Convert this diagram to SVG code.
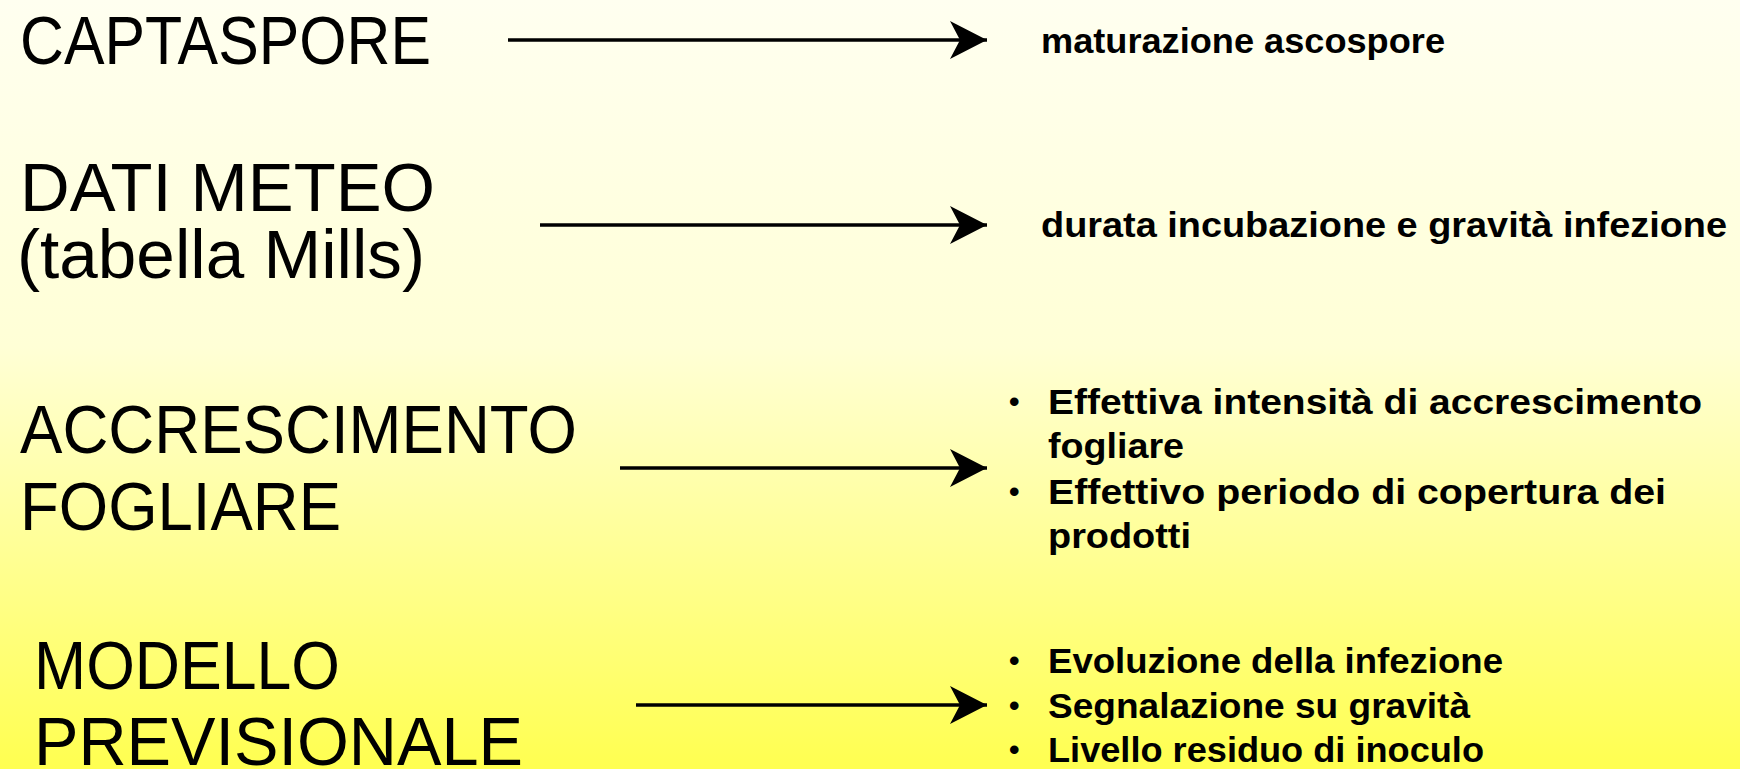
<svg xmlns="http://www.w3.org/2000/svg" width="1740" height="769" viewBox="0 0 1740 769">
  <defs>
    <linearGradient id="bg" x1="0" y1="0" x2="0" y2="1">
      <stop offset="0" stop-color="#FFFFF0"/>
      <stop offset="0.45" stop-color="#FFFFD6"/>
      <stop offset="1" stop-color="#FFFF50"/>
    </linearGradient>
    <marker id="arrow" markerUnits="userSpaceOnUse" markerWidth="40" markerHeight="40" viewBox="0 -20 40 40" refX="37" refY="0" orient="auto">
      <path d="M0,-19 L37,0 L0,19 L10,0 Z" fill="#000"/>
    </marker>
  </defs>
  <style>
    .big { font-family: "Liberation Sans", Arial, sans-serif; font-size: 68px; fill: #000; }
    .small { font-family: "Liberation Sans", Arial, sans-serif; font-size: 35px; font-weight: bold; fill: #000; }
    .dot { font-family: "Liberation Sans", Arial, sans-serif; font-size: 30px; font-weight: bold; fill: #000; }
    .conn { stroke: #000; stroke-width: 3.5; fill: none; marker-end: url(#arrow); }
  </style>
  <rect x="0" y="0" width="1740" height="769" fill="url(#bg)"/>

  <g id="captaspore">
    <text class="big" x="20" y="64" textLength="411" lengthAdjust="spacingAndGlyphs">CAPTASPORE</text>
  </g>
  <g id="maturazione">
    <text class="small" x="1041" y="53" textLength="404" lengthAdjust="spacingAndGlyphs">maturazione ascospore</text>
  </g>

  <g id="dati-meteo">
    <text class="big" x="20" y="211" textLength="415" lengthAdjust="spacingAndGlyphs">DATI METEO</text>
    <text class="big" x="17" y="278" textLength="408" lengthAdjust="spacingAndGlyphs">(tabella Mills)</text>
  </g>
  <g id="durata">
    <text class="small" x="1041" y="237" textLength="686" lengthAdjust="spacingAndGlyphs">durata incubazione e gravità infezione</text>
  </g>

  <g id="accrescimento">
    <text class="big" x="20" y="453" textLength="557" lengthAdjust="spacingAndGlyphs">ACCRESCIMENTO</text>
    <text class="big" x="20" y="530" textLength="321" lengthAdjust="spacingAndGlyphs">FOGLIARE</text>
  </g>
  <g id="effettiva">
    <text class="dot" x="1009" y="412">•</text>
    <text class="small" x="1048" y="414" textLength="654" lengthAdjust="spacingAndGlyphs">Effettiva intensità di accrescimento</text>
    <text class="small" x="1048" y="458" textLength="136" lengthAdjust="spacingAndGlyphs">fogliare</text>
    <text class="dot" x="1009" y="502">•</text>
    <text class="small" x="1048" y="504" textLength="618" lengthAdjust="spacingAndGlyphs">Effettivo periodo di copertura dei</text>
    <text class="small" x="1048" y="548" textLength="143" lengthAdjust="spacingAndGlyphs">prodotti</text>
  </g>

  <g id="modello">
    <text class="big" x="34" y="689" textLength="306" lengthAdjust="spacingAndGlyphs">MODELLO</text>
    <text class="big" x="34" y="765" textLength="489" lengthAdjust="spacingAndGlyphs">PREVISIONALE</text>
  </g>
  <g id="evoluzione">
    <text class="dot" x="1009" y="671">•</text>
    <text class="small" x="1048" y="673" textLength="455" lengthAdjust="spacingAndGlyphs">Evoluzione della infezione</text>
    <text class="dot" x="1009" y="716">•</text>
    <text class="small" x="1048" y="718" textLength="422" lengthAdjust="spacingAndGlyphs">Segnalazione su gravità</text>
    <text class="dot" x="1009" y="760">•</text>
    <text class="small" x="1048" y="762" textLength="436" lengthAdjust="spacingAndGlyphs">Livello residuo di inoculo</text>
  </g>

  <g id="connectors">
    <line class="conn" x1="508" y1="40" x2="987" y2="40"/>
    <line class="conn" x1="540" y1="225" x2="987" y2="225"/>
    <line class="conn" x1="620" y1="468" x2="987" y2="468"/>
    <line class="conn" x1="636" y1="705" x2="987" y2="705"/>
  </g>
</svg>
